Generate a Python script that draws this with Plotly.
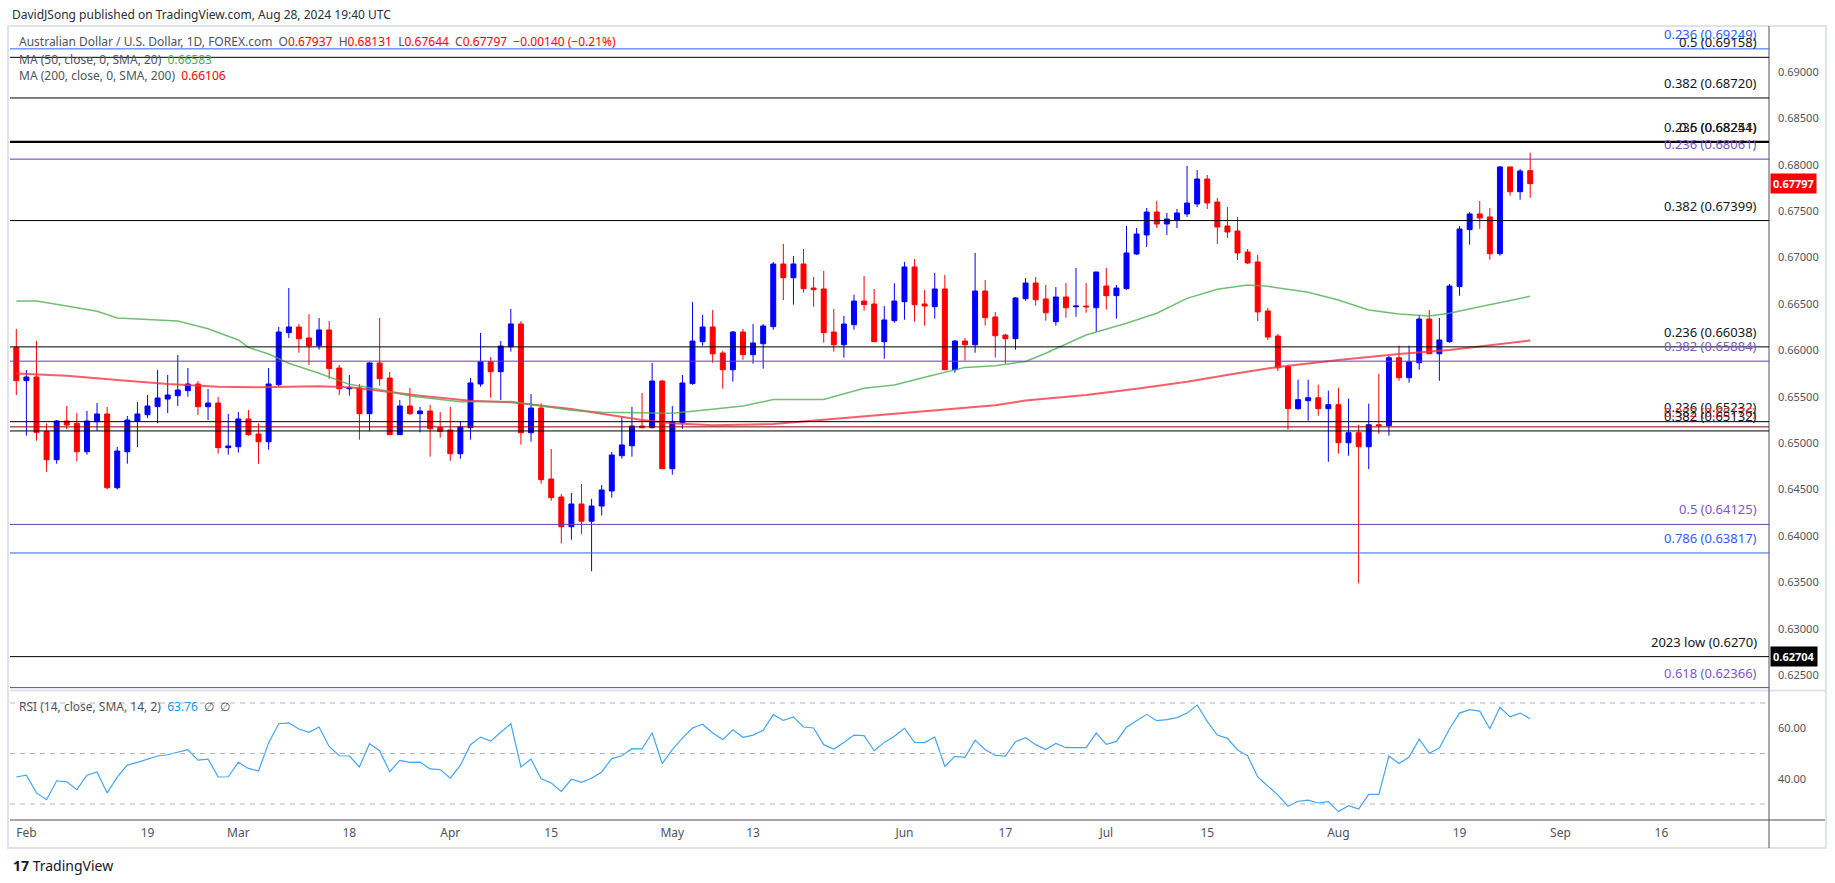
import numpy as np
import pandas as pd
import plotly.graph_objects as go

W, H = 1835, 883

# ---------------- data ----------------
dates = pd.bdate_range("2024-01-31", "2024-08-28")

opens = [0.66033, 0.65674, 0.65713, 0.65128, 0.64822, 0.65239, 0.65214, 0.64908, 0.65232, 0.65315,
         0.64520, 0.64908, 0.65239, 0.65307, 0.65394, 0.65476, 0.65512, 0.65566, 0.65638, 0.65393,
         0.65433, 0.64952, 0.64962, 0.65261, 0.65099, 0.65016, 0.65630, 0.66191, 0.66252, 0.66134,
         0.66051, 0.66220, 0.65810, 0.65587, 0.65595, 0.65318, 0.65864, 0.65702, 0.65092, 0.65401,
         0.65318, 0.65347, 0.65167, 0.65142, 0.64887, 0.65167, 0.65638, 0.65878, 0.65771, 0.66040,
         0.66285, 0.65113, 0.65379, 0.64614, 0.64420, 0.64100, 0.64345, 0.64160, 0.64323, 0.64485,
         0.64865, 0.64973, 0.65185, 0.65167, 0.65670, 0.64725, 0.65221, 0.65642, 0.66094, 0.66252,
         0.65972, 0.65792, 0.66198, 0.65954, 0.66072, 0.66256, 0.66931, 0.66783, 0.66931, 0.66672,
         0.66662, 0.66198, 0.66061, 0.66277, 0.66532, 0.66500, 0.66094, 0.66320, 0.66525, 0.66899,
         0.66500, 0.66471, 0.66662, 0.65792, 0.66101, 0.66061, 0.66640, 0.66360, 0.66165, 0.66126,
         0.66557, 0.66726, 0.66554, 0.66309, 0.66575, 0.66470, 0.66478, 0.66460, 0.66694, 0.66590,
         0.66665, 0.67039, 0.67244, 0.67491, 0.67362, 0.67405, 0.67470, 0.67578, 0.67847, 0.67599,
         0.67341, 0.67287, 0.67060, 0.66953, 0.66425, 0.66155, 0.65825, 0.65372, 0.65458, 0.65490,
         0.65372, 0.65415, 0.65005, 0.65113, 0.64962, 0.65199, 0.65189, 0.65921, 0.65706, 0.65867,
         0.66338, 0.65964, 0.66094, 0.66687, 0.67301, 0.67470, 0.67438, 0.67042, 0.67977, 0.67710,
         0.67937]
highs = [0.66231, 0.65789, 0.66101, 0.65214, 0.65250, 0.65401, 0.65325, 0.65347, 0.65433, 0.65390,
         0.64959, 0.65293, 0.65444, 0.65519, 0.65789, 0.65735, 0.65950, 0.65810, 0.65670, 0.65584,
         0.65498, 0.65315, 0.65336, 0.65358, 0.65214, 0.65810, 0.66252, 0.66672, 0.66285, 0.66392,
         0.66349, 0.66317, 0.65843, 0.65735, 0.65638, 0.65875, 0.66349, 0.65767, 0.65466, 0.65595,
         0.65390, 0.65412, 0.65336, 0.65390, 0.65239, 0.65703, 0.66188, 0.65929, 0.66101, 0.66446,
         0.66317, 0.65530, 0.65430, 0.64937, 0.64453, 0.64464, 0.64560, 0.64400, 0.64550, 0.64905,
         0.65286, 0.65390, 0.65541, 0.65864, 0.65681, 0.65400, 0.65735, 0.66522, 0.66381, 0.66435,
         0.65997, 0.66210, 0.66231, 0.66284, 0.66284, 0.66953, 0.67147, 0.67017, 0.67093, 0.66791,
         0.66856, 0.66446, 0.66371, 0.66600, 0.66802, 0.66662, 0.66478, 0.66724, 0.66953, 0.66985,
         0.66651, 0.66834, 0.66813, 0.66112, 0.66134, 0.67050, 0.66759, 0.66414, 0.66177, 0.66575,
         0.66780, 0.66791, 0.66705, 0.66683, 0.66726, 0.66888, 0.66726, 0.66845, 0.66888, 0.66705,
         0.67341, 0.67319, 0.67534, 0.67610, 0.67481, 0.67524, 0.67987, 0.67944, 0.67890, 0.67642,
         0.67545, 0.67437, 0.67093, 0.67028, 0.66457, 0.66177, 0.65846, 0.65684, 0.65684, 0.65630,
         0.65566, 0.65598, 0.65480, 0.65199, 0.65426, 0.65749, 0.65943, 0.66051, 0.66051, 0.66381,
         0.66435, 0.66349, 0.66716, 0.67341, 0.67491, 0.67610, 0.67534, 0.67987, 0.67977, 0.67955,
         0.68131]
lows = [0.65519, 0.65081, 0.65027, 0.64693, 0.64779, 0.65153, 0.64801, 0.64876, 0.65131, 0.64503,
        0.64503, 0.64779, 0.64959, 0.65272, 0.65214, 0.65325, 0.65401, 0.65501, 0.65304, 0.65250,
        0.64887, 0.64876, 0.64898, 0.65081, 0.64779, 0.64930, 0.65616, 0.66134, 0.65975, 0.65843,
        0.66008, 0.65695, 0.65519, 0.65512, 0.65038, 0.65128, 0.65620, 0.65092, 0.65092, 0.65304,
        0.65117, 0.64855, 0.65059, 0.64811, 0.64833, 0.65038, 0.65609, 0.65490, 0.65466, 0.65986,
        0.64984, 0.65016, 0.64564, 0.64380, 0.63920, 0.63960, 0.64020, 0.63620, 0.64220, 0.64413,
        0.64833, 0.64855, 0.65160, 0.65160, 0.64725, 0.64661, 0.65156, 0.65630, 0.66051, 0.65867,
        0.65587, 0.65663, 0.65900, 0.65857, 0.65803, 0.66223, 0.66543, 0.66493, 0.66622, 0.66471,
        0.66083, 0.65986, 0.65921, 0.66223, 0.66428, 0.66094, 0.65910, 0.66298, 0.66331, 0.66309,
        0.66266, 0.66342, 0.65792, 0.65760, 0.65889, 0.65975, 0.66266, 0.65921, 0.65857, 0.66008,
        0.66536, 0.66482, 0.66320, 0.66266, 0.66352, 0.66363, 0.66406, 0.66201, 0.66439, 0.66342,
        0.66654, 0.67028, 0.67114, 0.67319, 0.67244, 0.67319, 0.67437, 0.67545, 0.67524, 0.67147,
        0.67211, 0.66974, 0.66930, 0.66317, 0.66112, 0.65778, 0.65146, 0.65361, 0.65242, 0.65296,
        0.64800, 0.64887, 0.64865, 0.63490, 0.64720, 0.65102, 0.65081, 0.65673, 0.65652, 0.65792,
        0.65964, 0.65673, 0.66083, 0.66589, 0.67139, 0.67311, 0.66977, 0.67020, 0.67667, 0.67624,
        0.67644]
closes = [0.65674, 0.65713, 0.65117, 0.64822, 0.65239, 0.65196, 0.64908, 0.65239, 0.65315, 0.64520,
          0.64916, 0.65250, 0.65315, 0.65401, 0.65487, 0.65519, 0.65573, 0.65638, 0.65393, 0.65433,
          0.64952, 0.64970, 0.65261, 0.65092, 0.65016, 0.65638, 0.66198, 0.66252, 0.66126, 0.66051,
          0.66220, 0.65803, 0.65587, 0.65595, 0.65318, 0.65864, 0.65695, 0.65092, 0.65401, 0.65318,
          0.65347, 0.65156, 0.65128, 0.64887, 0.65175, 0.65649, 0.65878, 0.65771, 0.66047, 0.66285,
          0.65113, 0.65379, 0.64607, 0.64413, 0.64100, 0.64345, 0.64160, 0.64323, 0.64496, 0.64873,
          0.64981, 0.65185, 0.65167, 0.65670, 0.64725, 0.65228, 0.65649, 0.66101, 0.66252, 0.65964,
          0.65792, 0.66198, 0.65954, 0.66080, 0.66263, 0.66931, 0.66783, 0.66931, 0.66665, 0.66654,
          0.66191, 0.66061, 0.66284, 0.66532, 0.66493, 0.66094, 0.66328, 0.66532, 0.66899, 0.66493,
          0.66478, 0.66662, 0.65792, 0.66101, 0.66061, 0.66640, 0.66353, 0.66158, 0.66126, 0.66565,
          0.66726, 0.66546, 0.66406, 0.66575, 0.66460, 0.66478, 0.66470, 0.66845, 0.66590, 0.66672,
          0.67050, 0.67254, 0.67491, 0.67362, 0.67416, 0.67481, 0.67588, 0.67847, 0.67588, 0.67330,
          0.67276, 0.67050, 0.66942, 0.66414, 0.66144, 0.65813, 0.65372, 0.65469, 0.65490, 0.65372,
          0.65415, 0.65005, 0.65113, 0.64962, 0.65199, 0.65189, 0.65921, 0.65706, 0.65878, 0.66338,
          0.65964, 0.66112, 0.66694, 0.67308, 0.67470, 0.67427, 0.67042, 0.67977, 0.67710, 0.67933,
          0.67797]

rsi = [40.7, 41.4, 34.4, 31.7, 39.2, 38.8, 35.7, 41.4, 42.7, 34.4, 40.6, 45.4, 46.5, 47.7, 49.0,
       49.5, 50.5, 51.5, 47.4, 47.8, 40.7, 40.8, 46.5, 44.1, 43.1, 54.2, 61.8, 62.1, 59.7, 58.4,
       60.5, 52.8, 49.1, 49.0, 44.7, 53.9, 51.1, 42.8, 47.3, 46.5, 46.6, 43.9, 43.6, 40.2, 45.3,
       53.5, 56.5, 54.9, 58.4, 61.8, 44.7, 47.8, 40.0, 38.3, 35.0, 39.8, 38.6, 40.2, 42.7, 48.0,
       49.1, 51.9, 51.8, 58.2, 46.0, 51.5, 56.1, 60.1, 61.6, 58.1, 55.5, 59.4, 56.4, 57.3, 59.2,
       65.4, 63.1, 64.5, 60.5, 60.1, 53.5, 51.8, 54.4, 57.3, 57.1, 51.1, 54.4, 56.8, 60.0, 54.4,
       54.3, 56.5, 44.9, 48.9, 48.5, 55.3, 51.5, 49.3, 49.0, 54.7, 56.3, 53.5, 51.6, 54.0, 52.3,
       52.4, 52.3, 58.1, 53.6, 54.8, 60.4, 63.0, 65.5, 63.0, 63.4, 64.2, 66.0, 69.2, 62.7, 57.3,
       56.0, 51.4, 49.1, 40.7, 37.3, 33.6, 29.1, 31.1, 31.5, 30.4, 30.9, 27.0, 29.3, 28.0, 33.8,
       33.8, 49.0, 46.0, 48.6, 55.7, 50.1, 52.2, 59.7, 66.0, 67.4, 66.8, 59.8, 68.3, 64.5, 66.0,
       63.76]

ma50_dates = ["2024-01-31", "2024-02-02", "2024-02-07", "2024-02-12", "2024-02-14", "2024-02-22",
              "2024-02-27", "2024-03-01", "2024-03-04", "2024-03-06", "2024-03-08", "2024-03-13",
              "2024-03-18", "2024-03-21", "2024-03-26", "2024-04-02", "2024-04-09", "2024-04-17",
              "2024-04-22", "2024-05-01", "2024-05-06", "2024-05-10", "2024-05-15", "2024-05-22",
              "2024-05-28", "2024-05-31", "2024-06-05", "2024-06-11", "2024-06-14", "2024-06-19",
              "2024-06-21", "2024-06-27", "2024-07-03", "2024-07-08", "2024-07-11", "2024-07-16",
              "2024-07-19", "2024-07-23", "2024-07-29", "2024-08-01", "2024-08-06", "2024-08-09",
              "2024-08-14", "2024-08-16", "2024-08-21", "2024-08-28"]
ma50_vals = [0.66532, 0.66532, 0.66478, 0.66421, 0.66349, 0.66317, 0.66234, 0.66112, 0.66033,
             0.65961, 0.65861, 0.65753, 0.65634, 0.65580, 0.65509, 0.65447, 0.65450, 0.65355,
             0.65333, 0.65322, 0.65355, 0.65401, 0.65470, 0.65470, 0.65592, 0.65627, 0.65710,
             0.65817, 0.65835, 0.65880, 0.65969, 0.66166, 0.66292, 0.66400, 0.66561, 0.66658,
             0.66705, 0.66690, 0.66626, 0.66543, 0.66435, 0.66392, 0.66371, 0.66400, 0.66471,
             0.66583]

ma200_dates = ["2024-01-31", "2024-02-07", "2024-02-14", "2024-02-21", "2024-02-28", "2024-03-05",
               "2024-03-13", "2024-03-18", "2024-03-21", "2024-03-27", "2024-04-03", "2024-04-09",
               "2024-04-17", "2024-04-26", "2024-05-01", "2024-05-07", "2024-05-15", "2024-05-28",
               "2024-06-06", "2024-06-14", "2024-06-19", "2024-06-27", "2024-07-04", "2024-07-11",
               "2024-07-18", "2024-07-24", "2024-08-01", "2024-08-09", "2024-08-16", "2024-08-28"]
ma200_vals = [0.65750, 0.65728, 0.65681, 0.65638, 0.65609, 0.65602, 0.65613, 0.65602, 0.65566,
              0.65512, 0.65458, 0.65440, 0.65369, 0.65250, 0.65214, 0.65193, 0.65207, 0.65286,
              0.65350, 0.65408, 0.65460, 0.65519, 0.65587, 0.65662, 0.65753, 0.65822, 0.65897,
              0.65961, 0.66004, 0.66106]

tick_dates = ["2024-02-01", "2024-02-19", "2024-03-01", "2024-03-18", "2024-04-01", "2024-04-15",
              "2024-05-01", "2024-05-13", "2024-06-03", "2024-06-17", "2024-07-01", "2024-07-15",
              "2024-08-01", "2024-08-19", "2024-09-02", "2024-09-16"]
tick_text = ["Feb", "19", "Mar", "18", "Apr", "15", "May", "13", "Jun", "17", "Jul", "15",
             "Aug", "19", "Sep", "16"]

price_ticks = [0.625, 0.630, 0.635, 0.640, 0.645, 0.650, 0.655, 0.660, 0.665, 0.670, 0.675,
               0.680, 0.685, 0.690]
rsi_ticks = [40, 60]
rsi_bands = [70, 50, 30]

# fib levels: value, line colour, label, label colour
fib_values = [0.69249, 0.69158, 0.68720, 0.68251, 0.68244, 0.68061, 0.67399, 0.66038, 0.65884,
              0.65232, 0.65176, 0.65132, 0.64125, 0.63817, 0.62700, 0.62366]
fib_labels = ["0.236 (0.69249)", "0.5 (0.69158)", "0.382 (0.68720)", "0.5 (0.68251)",
              "0.236 (0.68244)", "0.236 (0.68061)", "0.382 (0.67399)", "0.236 (0.66038)",
              "0.382 (0.65884)", "0.236 (0.65232)", "0.382 (0.65176)", "0.382 (0.65132)",
              "0.5 (0.64125)", "0.786 (0.63817)", "2023 low (0.6270)", "0.618 (0.62366)"]
BLUE, PURP, BLK, DRED = "#2962ff", "#673ab7", "#000000", "#8b0000"
fib_line_colors = [BLUE, BLK, BLK, BLK, BLK, PURP, BLK, BLK, PURP, BLK, DRED, BLK, PURP, BLUE, BLK, PURP]
fib_text_colors = ["#2962ff", "#131722", "#131722", "#131722", "#131722", "#7e57c2", "#131722",
                   "#131722", "#7e57c2", "#131722", "#e53935", "#131722", "#7e57c2", "#2962ff",
                   "#131722", "#7e57c2"]
fib_widths = [1, 1, 1, 1.5, 1.5, 1, 1, 1, 1, 1, 1, 1, 1, 1, 1, 1]

# ---------------- geometry (pixels) ----------------
PL, PR = 10, 1769          # plot left / right (price axis line)
P_TOP, P_BOT = 27, 689     # price pane
R_TOP, R_BOT = 691, 820    # rsi pane


def fx(px):
    return px / W


def fy(py):
    return 1 - py / H


x_idx = np.arange(len(dates))
start = dates[0].strftime("%Y-%m-%d")
tick_x = [int(np.busday_count(start, d)) for d in tick_dates]
ma50_x = [dates.get_loc(pd.Timestamp(d)) for d in ma50_dates]
ma200_x = [dates.get_loc(pd.Timestamp(d)) for d in ma200_dates]

FONT = "Noto Sans"

fig = go.Figure()

fig.add_trace(go.Scatter(x=ma200_x, y=ma200_vals, mode="lines", yaxis="y",
                         line=dict(color="rgba(242,54,69,0.8)", width=2), hoverinfo="skip"))
fig.add_trace(go.Scatter(x=ma50_x, y=ma50_vals, mode="lines", yaxis="y",
                         line=dict(color="rgba(76,175,80,0.8)", width=1.5), hoverinfo="skip"))

fig.add_trace(go.Candlestick(
    x=x_idx, open=opens, high=highs, low=lows, close=closes, yaxis="y",
    increasing=dict(line=dict(color="#0000ff", width=1), fillcolor="#0000ff"),
    decreasing=dict(line=dict(color="#ff0000", width=1), fillcolor="#ff0000"),
    whiskerwidth=0))

fig.add_trace(go.Scatter(x=x_idx, y=rsi, mode="lines", yaxis="y2",
                         line=dict(color="#42a5f5", width=1.2), hoverinfo="skip"))

shapes = []
# frame
shapes.append(dict(type="rect", xref="paper", yref="paper", x0=fx(8), x1=fx(1826), y0=fy(848), y1=fy(26),
                   line=dict(color="#e0e3eb", width=2), layer="below"))
# pane separator
shapes.append(dict(type="line", xref="paper", yref="paper", x0=fx(PL), x1=fx(1825), y0=fy(690.5), y1=fy(690.5),
                   line=dict(color="#e0e3eb", width=2)))
# time axis top line
shapes.append(dict(type="line", xref="paper", yref="paper", x0=fx(PL), x1=fx(1825), y0=fy(R_BOT), y1=fy(R_BOT),
                   line=dict(color="#50535e", width=1)))
# price axis vertical line
shapes.append(dict(type="line", xref="paper", yref="paper", x0=fx(PR), x1=fx(PR), y0=fy(848), y1=fy(26),
                   line=dict(color="#50535e", width=1)))
# rsi dashed bands
for b in rsi_bands:
    shapes.append(dict(type="line", xref="paper", yref="y2", x0=fx(PL), x1=fx(PR), y0=b, y1=b,
                       line=dict(color="#b2b5be", width=1, dash="5px,5px")))
# fib lines
for v, c, w in zip(fib_values, fib_line_colors, fib_widths):
    shapes.append(dict(type="line", xref="paper", yref="y", x0=fx(PL), x1=fx(PR), y0=v, y1=v,
                       line=dict(color=c, width=w)))

ann = []
for v, t, c in zip(fib_values, fib_labels, fib_text_colors):
    ann.append(dict(x=fx(1759), y=v, xref="paper", yref="y", xanchor="right", yanchor="bottom",
                    text=t, showarrow=False, yshift=4, font=dict(family=FONT, size=13, color=c)))

GRAY = "#50535e"
RED = "#ff0000"
ann.append(dict(x=fx(10), y=fy(15), xref="paper", yref="paper", xanchor="left", yanchor="middle",
                showarrow=False, text="DavidJSong published on TradingView.com, Aug 28, 2024 19:40 UTC",
                font=dict(family=FONT, size=12, color="#2a2e39")))
ann.append(dict(x=fx(17), y=fy(42), xref="paper", yref="paper", xanchor="left", yanchor="middle",
                showarrow=False,
                text=("Australian Dollar / U.S. Dollar, 1D, FOREX.com&nbsp; "
                      f"O<span style='color:{RED}'>0.67937</span>&nbsp; "
                      f"H<span style='color:{RED}'>0.68131</span>&nbsp; "
                      f"L<span style='color:{RED}'>0.67644</span>&nbsp; "
                      f"C<span style='color:{RED}'>0.67797</span>&nbsp; "
                      f"<span style='color:{RED}'>−0.00140 (−0.21%)</span>"),
                font=dict(family=FONT, size=12, color=GRAY)))
ann.append(dict(x=fx(17), y=fy(60), xref="paper", yref="paper", xanchor="left", yanchor="middle",
                showarrow=False,
                text="MA (50, close, 0, SMA, 20)&nbsp; <span style='color:#4caf50'>0.66583</span>",
                font=dict(family=FONT, size=12, color=GRAY)))
ann.append(dict(x=fx(17), y=fy(76), xref="paper", yref="paper", xanchor="left", yanchor="middle",
                showarrow=False,
                text=f"MA (200, close, 0, SMA, 200)&nbsp; <span style='color:{RED}'>0.66106</span>",
                font=dict(family=FONT, size=12, color=GRAY)))
ann.append(dict(x=fx(17), y=fy(706), xref="paper", yref="paper", xanchor="left", yanchor="middle",
                showarrow=False,
                text="RSI (14, close, SMA, 14, 2)&nbsp; <span style='color:#2196f3'>63.76</span>&nbsp; ∅&nbsp; ∅",
                font=dict(family=FONT, size=12, color=GRAY)))
# price tags
ann.append(dict(x=fx(1770), y=closes[-1], xref="paper", yref="y", xanchor="left", yanchor="middle",
                showarrow=False, text="<b>0.67797</b>", bgcolor="#ff0000", borderpad=2,
                font=dict(family=FONT, size=11, color="#ffffff")))
ann.append(dict(x=fx(1770), y=0.62704, xref="paper", yref="y", xanchor="left", yanchor="middle",
                showarrow=False, text="<b>0.62704</b>", bgcolor="#000000", borderpad=2,
                font=dict(family=FONT, size=11, color="#ffffff")))
# logo
ann.append(dict(x=fx(11), y=fy(865), xref="paper", yref="paper", xanchor="left", yanchor="middle",
                showarrow=False, text="<b>17</b> TradingView",
                font=dict(family=FONT, size=14, color="#131722")))

fig.update_layout(
    width=W, height=H, autosize=False,
    margin=dict(l=0, r=0, t=0, b=0),
    paper_bgcolor="#ffffff", plot_bgcolor="#ffffff",
    showlegend=False,
    boxgap=0.3,
    xaxis=dict(domain=[fx(PL), fx(PR)], range=[-0.624, 173.66], anchor="y2",
               tickmode="array", tickvals=tick_x, ticktext=tick_text,
               tickfont=dict(family=FONT, size=12, color=GRAY),
               showgrid=False, zeroline=False, showline=False, ticks="",
               rangeslider=dict(visible=False), ticklabelstandoff=4),
    yaxis=dict(domain=[fy(P_BOT), fy(P_TOP)], range=[0.69 - (P_BOT - 72) / 9280, 0.69 - (P_TOP - 72) / 9280],
               side="right", anchor="x", tickmode="array", tickvals=price_ticks,
               ticktext=[f"{v:.5f}" for v in price_ticks],
               tickfont=dict(family=FONT, size=11, color=GRAY),
               showgrid=False, zeroline=False, showline=False, ticks="", ticklabelstandoff=8),
    yaxis2=dict(domain=[fy(R_BOT), fy(R_TOP)], range=[70 - (R_BOT - 703) / 2.525, 70 + (703 - R_TOP) / 2.525],
                side="right", anchor="x", tickmode="array", tickvals=rsi_ticks,
                ticktext=[f"{v:.2f}" for v in rsi_ticks],
                tickfont=dict(family=FONT, size=11, color=GRAY),
                showgrid=False, zeroline=False, showline=False, ticks="", ticklabelstandoff=8),
    shapes=shapes,
    annotations=ann,
)

fig.write_html("out.html", config={"displayModeBar": False},
               post_script="document.body.style.margin='0';document.body.style.overflow='hidden';")
